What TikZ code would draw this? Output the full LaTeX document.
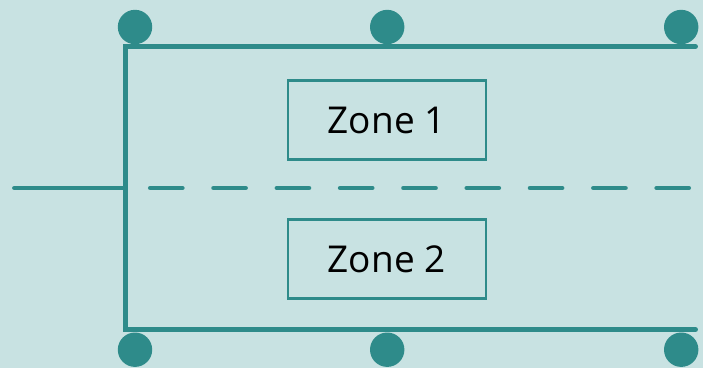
\documentclass[tikz,border=0pt]{standalone}
\usepackage{fontspec}
\setmainfont{Open Sans}
\definecolor{bgteal}{RGB}{200,226,226}
\definecolor{darkteal}{RGB}{46,139,138}

\begin{document}
\begin{tikzpicture}[x=1pt,y=-1pt,
        dot/.style={circle, fill=darkteal, minimum size=34.4pt, inner sep=0pt},
        zone/.style={rectangle, draw=darkteal, line width=2.2pt, minimum width=198pt, minimum height=79pt, inner sep=0pt, font=\fontsize{37}{44}\selectfont},
        wall/.style={draw=darkteal, line width=4.7pt}]
        \fill [bgteal] (0,0) rectangle (703,368);
        \useasboundingbox (0,0) rectangle (703,368);
        \begin{scope}
            % frame corners
            \coordinate (tr) at (695.6,46.5);
            \coordinate (tl) at (125.2,46.5);
            \coordinate (bl) at (125.2,329.6);
            \coordinate (br) at (695.6,329.6);
            \coordinate (lead) at (14.4,188);
            \coordinate (dashstart) at (150.3,188);
            \coordinate (dashend) at (689,188);
            \draw [wall, line cap=round] (tr) -- (tl) -- (bl) -- (br);
            \draw [wall, line cap=round] (lead) -- (lead -| tl);
            \draw [wall, line cap=round, dash pattern=on 32pt off 31.3pt] (dashstart) -- (dashend);
            % dots
            \node [dot] (t1) at (135,27) {};
            \node [dot] (t2) at (387.2,27) {};
            \node [dot] (t3) at (681.2,27) {};
            \node [dot] (b1) at (135,349.7) {};
            \node [dot] (b2) at (387.2,349.7) {};
            \node [dot] (b3) at (681.2,349.7) {};
            % zones
            \node [zone] (z1) at (386.7,120) {Zone 1};
            \node [zone] (z2) at (386.7,259) {Zone 2};
        \end{scope}
\end{tikzpicture}
\end{document}
